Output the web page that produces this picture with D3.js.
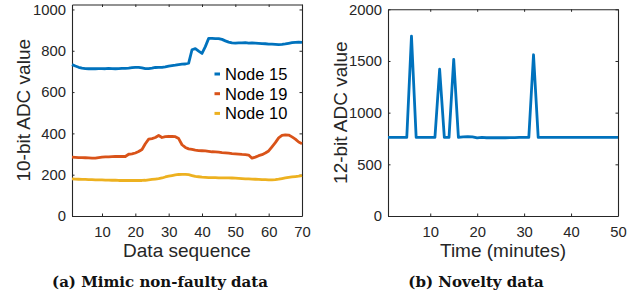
<!DOCTYPE html>
<html>
<head>
<meta charset="utf-8">
<script src="https://cdn.jsdelivr.net/npm/d3@7"></script>
<style>
  body { margin: 0; background: #fff; }
  svg { display: block; }
</style>
</head>
<body>
<script>
const width = 642;
const height = 299;

// left panel: 10-bit ADC values per node, sequence 1..70
const seqLeft = d3.range(1, 71);
const node15 = [733, 726, 720, 716, 714, 713, 714, 713, 714, 714,
  713, 715, 714, 713, 714, 715, 715, 716, 718, 720,
  720, 717, 714, 714, 716, 719, 720, 720, 722, 726,
  728, 730, 733, 735, 736, 740, 805, 810, 798, 787,
  820, 860, 860, 859, 859, 855, 848, 842, 838, 837,
  838, 838, 839, 837, 838, 837, 836, 835, 834, 832,
  832, 831, 830, 831, 833, 836, 839, 841, 842, 841];
const node19 = [285, 284, 283, 283, 282, 281, 280, 280, 283, 285,
  286, 286, 287, 288, 288, 288, 288, 299, 301, 305,
  312, 322, 350, 372, 375, 380, 390, 380, 384, 386,
  385, 384, 375, 345, 332, 325, 322, 319, 317, 316,
  315, 313, 311, 310, 309, 307, 306, 304, 302, 301,
  300, 298, 297, 295, 280, 285, 292, 297, 305, 315,
  335, 355, 378, 390, 393, 392, 383, 372, 358, 350];
const node10 = [180, 179, 178, 177, 177, 176, 176, 175, 175, 175,
  174, 174, 173, 173, 172, 172, 172, 172, 172, 172,
  172, 172, 173, 175, 177, 179, 181, 184, 189, 193,
  196, 199, 201, 202, 202, 200, 196, 192, 190, 188,
  187, 186, 186, 186, 185, 185, 185, 185, 184, 183,
  182, 181, 180, 180, 179, 178, 177, 176, 176, 175,
  175, 176, 178, 181, 184, 187, 189, 191, 193, 196];
const seriesNames = ["Node 15", "Node 19", "Node 10"];
const leftXTicks = [10, 20, 30, 40, 50, 60, 70];
const leftYTicks = [0, 200, 400, 600, 800, 1000];

// right panel: 12-bit ADC value over time, minutes 1..50
const timeRight = d3.range(1, 51);
const novelty = [760, 760, 760, 760, 760, 1740, 760, 760, 760, 760,
  760, 1420, 760, 760, 1515, 760, 765, 768, 765, 755,
  760, 757, 757, 758, 757, 757, 758, 758, 760, 760,
  760, 1560, 760, 760, 760, 760, 760, 760, 760, 760,
  760, 760, 760, 760, 760, 760, 760, 760, 760, 760];
const rightXTicks = [10, 20, 30, 40, 50];
const rightYTicks = [0, 500, 1000, 1500, 2000];

const colors = ["#0072BD", "#D95319", "#EDB120"];
const axisColor = "#262626";
const sans = "'Liberation Sans', Arial, sans-serif";

const svg = d3.select("body").append("svg")
    .attr("width", width)
    .attr("height", height);

function drawPanel(opts) {
    const x = d3.scaleLinear().domain(opts.xDomain).range([opts.left, opts.right]);
    const y = d3.scaleLinear().domain(opts.yDomain).range([opts.bottom, opts.top]);
    const g = svg.append("g");
    const tl = 2.5;
    const fmt = d3.format("d");

    // axes with inward ticks, mirrored on top and right
    g.append("g")
        .attr("transform", `translate(0,${opts.bottom})`)
        .call(d3.axisBottom(x).tickValues(opts.xTicks).tickFormat(fmt)
            .tickSizeInner(-tl).tickSizeOuter(0).tickPadding(10));
    g.append("g")
        .attr("transform", `translate(0,${opts.top})`)
        .call(d3.axisTop(x).tickValues(opts.xTicks).tickSizeInner(-tl).tickSizeOuter(0).tickFormat(""));
    g.append("g")
        .attr("transform", `translate(${opts.left},0)`)
        .call(d3.axisLeft(y).tickValues(opts.yTicks).tickFormat(fmt)
            .tickSizeInner(-tl).tickSizeOuter(0).tickPadding(6));
    g.append("g")
        .attr("transform", `translate(${opts.right},0)`)
        .call(d3.axisRight(y).tickValues(opts.yTicks).tickSizeInner(-tl).tickSizeOuter(0).tickFormat(""));

    g.selectAll(".domain").attr("stroke", axisColor).attr("stroke-width", 1.1);
    g.selectAll(".tick line").attr("stroke", axisColor).attr("stroke-width", 1);
    g.selectAll(".tick text")
        .attr("fill", axisColor)
        .style("font-family", sans)
        .style("font-size", "14.8px");

    const line = d3.line().x((d, i) => x(opts.xs[i])).y(d => y(d));
    opts.series.forEach((s, i) => {
        g.append("path")
            .datum(s)
            .attr("fill", "none")
            .attr("stroke", opts.colors[i])
            .attr("stroke-width", 2.8)
            .attr("stroke-linejoin", "round")
            .attr("d", line);
    });

    // axis titles
    g.append("text")
        .attr("x", (opts.left + opts.right) / 2)
        .attr("y", 257)
        .attr("text-anchor", "middle")
        .attr("fill", axisColor)
        .style("font-family", sans)
        .style("font-size", "19px")
        .text(opts.xLabel);
    g.append("text")
        .attr("transform", `translate(${opts.yLabelX},${(opts.top + opts.bottom) / 2}) rotate(-90)`)
        .attr("text-anchor", "middle")
        .attr("fill", axisColor)
        .style("font-family", sans)
        .style("font-size", "19px")
        .text(opts.yLabel);

    // caption
    g.append("text")
        .attr("x", opts.captionX)
        .attr("y", 287)
        .attr("text-anchor", "middle")
        .attr("fill", "#111")
        .style("font-family", "'DejaVu Serif', serif")
        .style("font-weight", "bold")
        .style("font-size", "15px")
        .text(opts.caption);

    return { g, x, y };
}

const leftPanel = drawPanel({
    left: 72, right: 302, top: 4.5, bottom: 216,
    xDomain: [1, 70], yDomain: [0, 1024],
    xTicks: leftXTicks, yTicks: leftYTicks,
    xs: seqLeft, series: [node15, node19, node10], colors: colors,
    xLabel: "Data sequence", yLabel: "10-bit ADC value", yLabelX: 30,
    caption: "(a) Mimic non-faulty data", captionX: 160
});

drawPanel({
    left: 388, right: 618, top: 9.3, bottom: 216,
    xDomain: [1, 50], yDomain: [0, 2000],
    xTicks: rightXTicks, yTicks: rightYTicks,
    xs: timeRight, series: [novelty], colors: [colors[0]],
    xLabel: "Time (minutes)", yLabel: "12-bit ADC value", yLabelX: 347,
    caption: "(b) Novelty data", captionX: 476
});

// legend (no box)
const legend = leftPanel.g.append("g");
seriesNames.forEach((name, i) => {
    const cy = 74 + i * 19.7;
    legend.append("rect")
        .attr("x", 214.5).attr("y", cy - 1.5)
        .attr("width", 5.5).attr("height", 3)
        .attr("fill", colors[i]);
    legend.append("text")
        .attr("x", 225).attr("y", cy)
        .attr("dy", "0.36em")
        .attr("fill", "#000")
        .style("font-family", sans)
        .style("font-size", "16.5px")
        .text(name);
});
</script>
</body>
</html>
